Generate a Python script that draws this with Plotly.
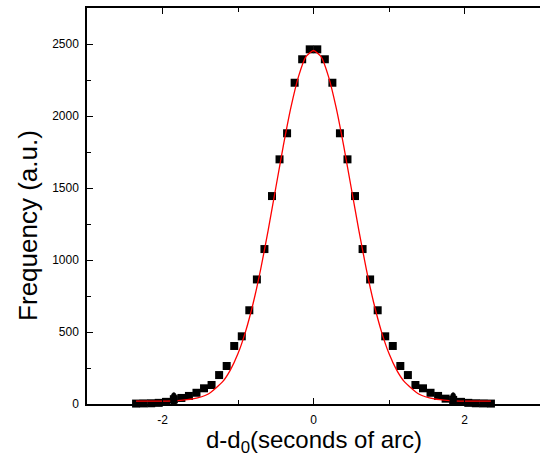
import plotly.graph_objects as go

# Measured data points (squares)
x_points = [-2.35, -2.25, -2.15, -2.05, -1.95, -1.85, -1.75, -1.65, -1.55, -1.45,
            -1.35, -1.25, -1.15, -1.05, -0.95, -0.85, -0.75, -0.65, -0.55, -0.45,
            -0.35, -0.25, -0.15, -0.05,
            0.05, 0.15, 0.25, 0.35, 0.45, 0.55, 0.65, 0.75, 0.85, 0.95,
            1.05, 1.15, 1.25, 1.35, 1.45, 1.55, 1.65, 1.75, 1.85, 1.95,
            2.05, 2.15, 2.25, 2.35]
y_points = [3, 4, 5, 8, 15, 33, 42, 56, 78, 109,
            132, 201, 264, 403, 470, 651, 865, 1076, 1444, 1699,
            1880, 2231, 2394, 2463,
            2463, 2394, 2231, 1880, 1699, 1444, 1076, 865, 651, 470,
            403, 264, 201, 132, 109, 78, 56, 37, 28, 15,
            8, 5, 4, 3]

# Oval markers near the base
oval_x = [-1.85, 1.85]
oval_y = [28, 28]

# Fitted curve
x_fit = [-2.35, -2.0, -1.8, -1.6, -1.4, -1.2, -1.1, -1.0, -0.9, -0.8, -0.7, -0.6,
         -0.5, -0.4, -0.3, -0.2, -0.1, 0.0, 0.1, 0.2, 0.3, 0.4, 0.5, 0.6, 0.7,
         0.8, 0.9, 1.0, 1.1, 1.2, 1.4, 1.6, 1.8, 2.0, 2.35]
y_fit = [20, 20, 24, 35, 68, 157, 237, 350, 503, 698, 935, 1208,
         1500, 1792, 2058, 2272, 2412, 2455, 2412, 2272, 2058, 1792, 1500, 1208, 935,
         698, 503, 350, 237, 157, 68, 35, 24, 20, 20]

x_tickvals = [-2, 0, 2]
y_tickvals = [0, 500, 1000, 1500, 2000, 2500]

fig = go.Figure()
fig.add_trace(go.Scatter(x=x_points, y=y_points, mode="markers",
                         marker=dict(symbol="square", size=8, color="black"),
                         cliponaxis=False, showlegend=False))
fig.add_trace(go.Scatter(x=x_fit, y=y_fit, mode="lines",
                         line=dict(color="#ff0000", width=1.3, shape="spline", smoothing=0.6),
                         showlegend=False))

for ox, oy in zip(oval_x, oval_y):
    fig.add_shape(type="circle", xref="x", yref="y", layer="above",
                  x0=ox - 0.045, x1=ox + 0.045, y0=oy - 52, y1=oy + 52,
                  fillcolor="black", line=dict(color="black", width=0.5))

axis_font = dict(family="Liberation Sans, Arial, sans-serif", size=12, color="black")

fig.update_xaxes(range=[-3, 3], tickvals=x_tickvals, ticktext=[str(v) for v in x_tickvals],
                 showline=True, linecolor="black", linewidth=1.5, mirror="ticks",
                 ticks="inside", ticklen=6, tickwidth=1, tickcolor="black",
                 minor=dict(ticks="inside", ticklen=4, dtick=1, tickcolor="black", showgrid=False),
                 showgrid=False, zeroline=False, tickfont=axis_font, ticklabelstandoff=4)
fig.update_yaxes(range=[0, 2750], tickvals=y_tickvals,
                 showline=True, linecolor="black", linewidth=1.5, mirror=False,
                 ticks="inside", ticklen=6, tickwidth=1, tickcolor="black",
                 minor=dict(ticks="inside", ticklen=4, dtick=250, tickcolor="black", showgrid=False),
                 showgrid=False, zeroline=False, tickfont=axis_font, ticklabelstandoff=4)

fig.add_annotation(text="Frequency (a.u.)", xref="paper", yref="paper",
                   x=-0.13, y=0.45, xanchor="center", yanchor="middle",
                   textangle=-90, showarrow=False,
                   font=dict(family="Liberation Sans, Arial, sans-serif", size=26, color="black"))
fig.add_annotation(text="d-d<sub>0</sub>(seconds of arc)", xref="paper", yref="paper",
                   x=0.5, y=-0.095, xanchor="center", yanchor="middle",
                   showarrow=False,
                   font=dict(family="Liberation Sans, Arial, sans-serif", size=24, color="black"))

fig.update_layout(width=541, height=457,
                  margin=dict(l=87, r=1, t=8, b=53),
                  paper_bgcolor="white", plot_bgcolor="white")

fig.write_html("out.html", config={"displayModeBar": False},
               post_script="document.body.style.margin='0';document.body.style.padding='0';document.body.style.overflow='hidden';")
